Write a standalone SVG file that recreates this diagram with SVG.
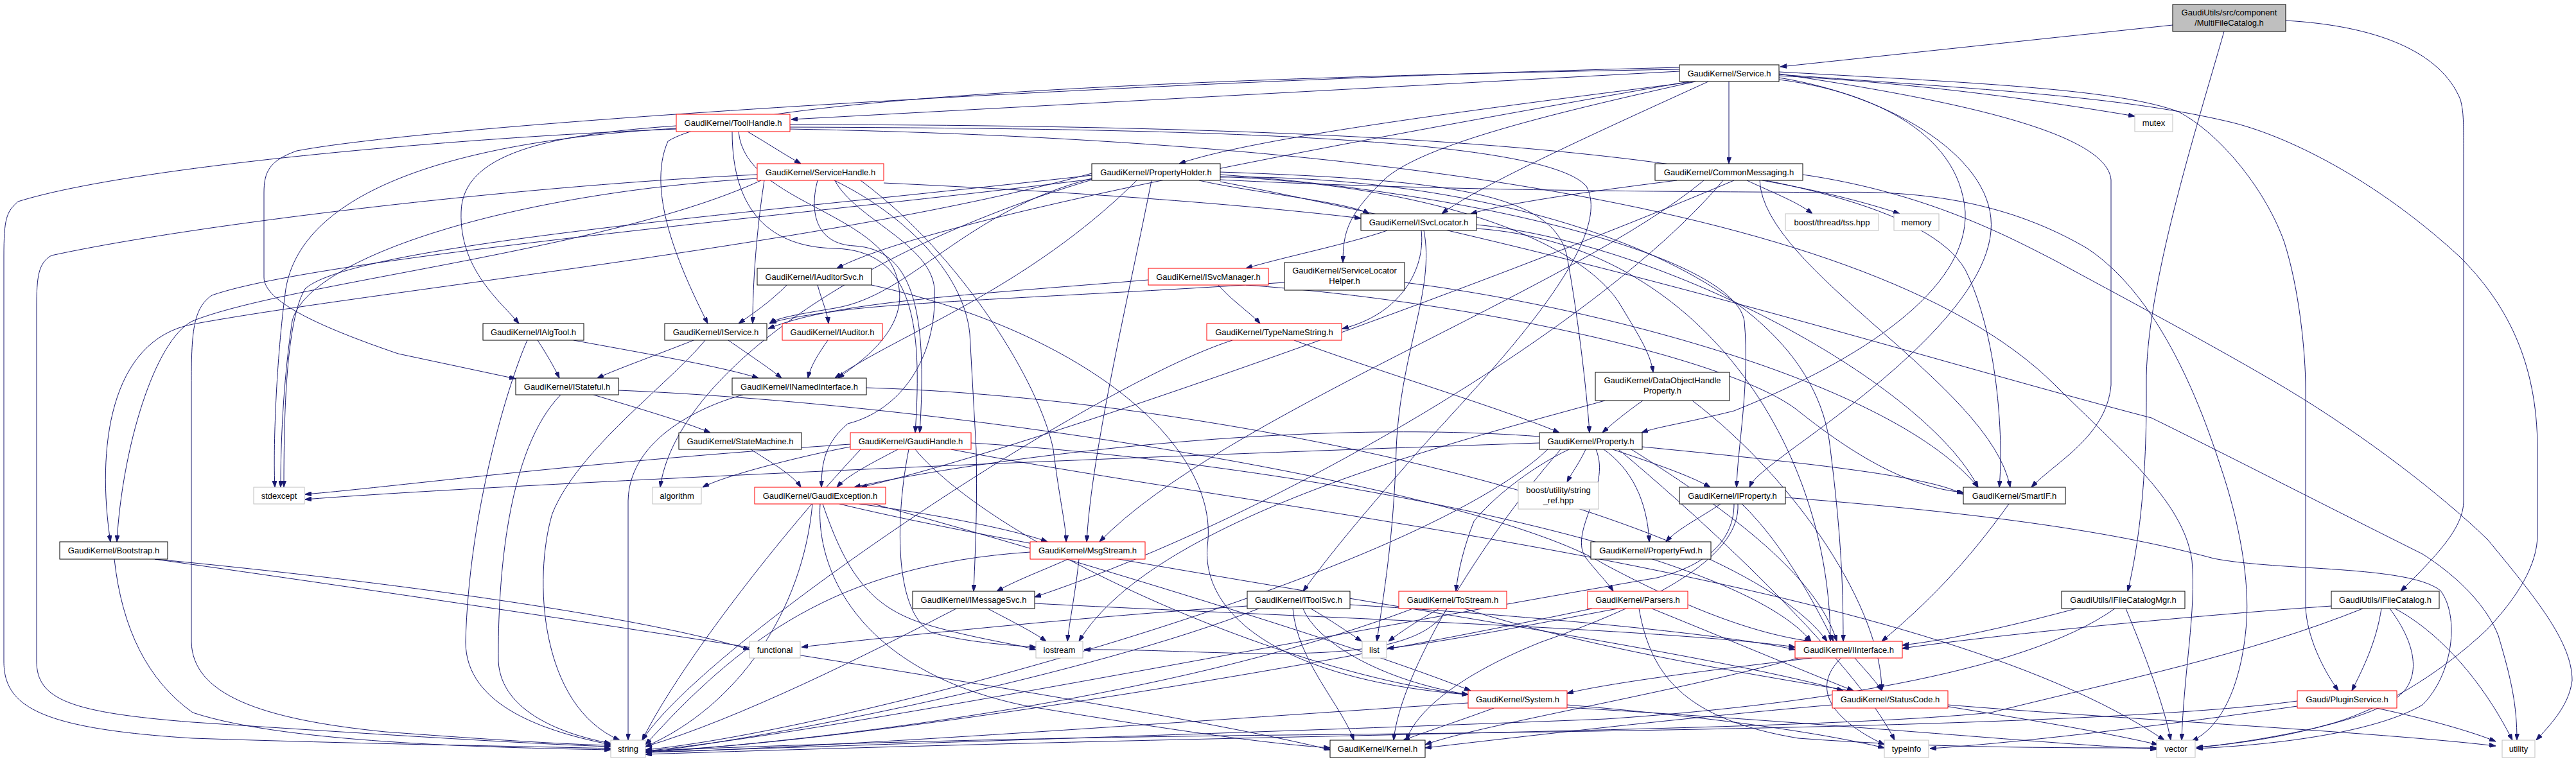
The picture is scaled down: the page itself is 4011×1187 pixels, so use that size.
<svg xmlns="http://www.w3.org/2000/svg" width="4011" height="1187" viewBox="0 0 4011 1187">
<defs>
<style>
.e path{fill:none;stroke:#191970;stroke-width:1;marker-end:url(#a)}
.n rect{fill:#fff;stroke:#000;stroke-width:1}
.n.r rect{stroke:#ff0000}
.n.g rect{stroke:#bfbfbf}
.n.t rect{fill:#bfbfbf;stroke:#000}
text{font-family:"Liberation Sans",Arial,sans-serif;font-size:13px;text-anchor:middle;fill:#000}
</style>
<marker id="a" markerWidth="10" markerHeight="7" refX="10" refY="3.5" orient="auto" markerUnits="userSpaceOnUse" viewBox="0 0 10 7"><path d="M0,0 L10,3.5 L0,7 z" fill="#191970" stroke="#191970"/></marker>
</defs>
<rect x="0" y="0" width="4011" height="1187" fill="#fff"/>
<g id="edges" class="e">
<path d="M3383,39 L2772,104"/>
<path d="M3463,49 C3420,200 3340,450 3342,600 C3343,750 3330,850 3313,921"/>
<path d="M3559,32 C3700,40 3800,80 3831,155 C3836,175 3836,185 3836,250 L3836,780 C3836,820 3800,860 3738,921"/>
<path d="M2692,127 L2692,255"/>
<path d="M2615,111 L1232,186"/>
<path d="M2770,118 C3000,130 3200,160 3324,181"/>
<path d="M2640,127 C2300,170 1950,215 1836,255"/>
<path d="M2630,127 C2100,220 1450,340 1303,418"/>
<path d="M2615,108 C1900,120 1150,150 1040,220 C1005,300 1060,420 1102,504"/>
<path d="M2615,105 C1800,125 700,190 462,235 C420,250 411,267 411,300 L411,432 C411,470 500,510 620,551 L803,590"/>
<path d="M2660,127 C2500,200 2300,290 2245,333"/>
<path d="M2640,127 C2400,180 2200,230 2150,285 C2100,335 2091,360 2091,409"/>
<path d="M2770,124 C2900,140 3050,200 3060,330 C3065,450 2900,560 2700,640 C2620,660 2580,665 2556,674"/>
<path d="M2770,121 C2950,150 3110,250 3100,360 C3090,480 2900,620 2790,700 C2750,730 2730,745 2724,759"/>
<path d="M2770,115 C3000,150 3280,200 3287,280 L3287,600 C3280,680 3200,720 3163,759"/>
<path d="M2770,112 C3100,130 3300,140 3392,174 C3460,210 3530,300 3557,378 C3580,450 3590,550 3590,606 L3590,946 C3592,990 3615,1040 3641,1076"/>
<path d="M2770,116 C3100,140 3300,150 3468,189 C3560,210 3700,280 3830,400 C3900,470 3951,560 3951,700 L3951,833 C3951,880 3920,930 3873,980 C3800,1050 3700,1110 3620,1130 C3550,1150 3470,1160 3420,1164"/>
<path d="M1164,205 C1190,220 1220,240 1247,255"/>
<path d="M1053,196 C850,210 720,240 718,330 C715,420 780,470 808,504"/>
<path d="M1140,205 C1140,330 1200,385 1300,387 C1420,390 1437,500 1425,674"/>
<path d="M1150,205 C1160,320 1390,330 1400,450 C1410,520 1330,570 1305,589"/>
<path d="M1230,198 C1800,200 2400,210 2470,290 C2520,380 2300,600 2211,700 C2150,770 2080,850 2029,921"/>
<path d="M1230,194 C2100,195 2950,230 3060,420 C3110,520 3120,680 3113,759"/>
<path d="M1053,200 C700,220 470,300 445,450 C430,560 425,700 428,759"/>
<path d="M1053,201 C700,215 200,260 28,314 C10,330 6,340 6,400 L6,1030 C6,1100 60,1135 300,1150 C600,1160 850,1163 951,1166"/>
<path d="M1230,201 C2000,215 2900,300 3200,600 C3300,700 3400,780 3413,873 C3420,950 3400,1050 3397,1153"/>
<path d="M1273,281 C1260,330 1270,380 1330,383 C1420,388 1445,480 1432,674"/>
<path d="M1300,281 C1330,340 1450,380 1455,450 C1460,560 1400,640 1320,660 C1285,690 1279,720 1279,759"/>
<path d="M1299,281 C1400,330 1500,420 1510,520 L1520,700 C1522,800 1518,870 1516,921"/>
<path d="M1376,285 C1700,300 1950,320 2119,340"/>
<path d="M1190,281 C1175,380 1172,460 1172,504"/>
<path d="M1340,281 C1500,400 1620,600 1640,700 C1650,780 1660,820 1660,844"/>
<path d="M1185,281 C950,390 450,440 300,500 C240,530 190,700 182,844"/>
<path d="M1179,272 C800,290 300,350 80,398 C60,410 57,429 57,480 L57,1030 C57,1090 110,1110 300,1125 C600,1145 850,1160 951,1163"/>
<path d="M1180,278 C800,300 480,400 455,500 C440,600 437,700 437,759"/>
<path d="M1700,270 C1300,380 600,450 300,505 C170,530 150,700 172,844"/>
<path d="M1793,281 C1760,450 1700,700 1692,844"/>
<path d="M1770,281 C1600,450 1400,520 1300,589"/>
<path d="M1700,278 C1500,330 1420,460 1300,480 C1240,490 1210,495 1198,504"/>
<path d="M1700,273 C1200,330 550,380 475,450 C445,500 442,650 442,759"/>
<path d="M1700,279 C1300,330 500,400 330,460 C300,480 298,520 298,600 L298,1000 C300,1080 400,1120 600,1140 C800,1155 900,1160 951,1161"/>
<path d="M1700,280 C1300,400 1050,600 1028,759"/>
<path d="M1900,272 C2300,300 2700,400 2716,500 C2725,600 2705,700 2704,759"/>
<path d="M1900,268 C2250,280 2420,300 2440,400 C2455,480 2470,600 2475,674"/>
<path d="M1900,275 C2250,290 2460,380 2520,470 C2550,520 2570,550 2574,580"/>
<path d="M1867,281 C1950,300 2100,315 2132,333"/>
<path d="M1900,276 C2300,270 2820,400 2850,700 C2865,820 2870,900 2870,999"/>
<path d="M1900,280 C2300,300 2700,298 2850,300 C3000,295 3133,318 3250,387 C3330,440 3400,550 3455,719 C3490,820 3502,908 3498,969 C3490,1075 3455,1135 3413,1154"/>
<path d="M1900,283 C2500,400 3000,560 3350,651 C3450,700 3590,772 3772,863 C3830,900 3873,946 3890,990 C3911,1060 3919,1100 3919,1153"/>
<path d="M2720,281 C2760,300 2800,315 2822,333"/>
<path d="M2744,281 C2850,300 2920,320 2958,333"/>
<path d="M2611,281 C2500,295 2350,315 2290,333"/>
<path d="M2653,281 C2450,450 1900,650 1712,844"/>
<path d="M2683,281 C2500,500 2000,800 1611,930"/>
<path d="M2700,281 C2300,450 1600,700 1340,759"/>
<path d="M2740,281 C2745,420 3100,600 3130,759"/>
<path d="M2807,272 C3000,300 3130,370 3200,406 C3290,455 3450,540 3561,606 C3687,682 3800,770 3873,840 C3948,931 4005,1000 4005,1060 C4000,1100 3970,1130 3949,1153"/>
<path d="M2160,359 C2100,380 2000,400 1940,418"/>
<path d="M2213,359 C2220,420 2180,490 2090,512"/>
<path d="M2217,359 C2235,450 2180,550 2174,700 C2170,850 2150,950 2144,999"/>
<path d="M2299,356 C2650,380 2850,700 2850,999"/>
<path d="M2299,350 C2600,380 3000,600 3080,759"/>
<path d="M1225,444 C1200,470 1170,490 1150,504"/>
<path d="M1273,444 C1280,470 1288,485 1290,504"/>
<path d="M1357,444 C1700,520 1900,700 1880,850 C1870,960 2000,1060 2286,1082"/>
<path d="M1897,444 C1920,470 1950,490 1962,504"/>
<path d="M1788,436 C1500,460 1300,470 1196,512"/>
<path d="M1940,444 C2300,470 2700,560 2800,640 C2900,720 2980,760 3057,767"/>
<path d="M2000,440 C1700,460 1400,470 1300,485 C1250,492 1215,497 1199,504"/>
<path d="M2187,440 C2500,480 2950,600 3080,759"/>
<path d="M837,530 C850,550 862,570 871,589"/>
<path d="M893,530 C1000,550 1120,570 1181,589"/>
<path d="M821,530 C790,600 730,800 725,1000 C725,1100 850,1140 951,1160"/>
<path d="M1080,530 C1030,550 960,575 930,589"/>
<path d="M1134,530 C1170,555 1200,575 1217,589"/>
<path d="M1098,530 C1040,600 900,700 860,800 C830,900 840,1100 965,1153"/>
<path d="M1289,530 C1275,550 1262,570 1258,589"/>
<path d="M2015,530 C2150,580 2350,640 2428,674"/>
<path d="M1919,530 C1700,600 1100,1000 1000,1153"/>
<path d="M924,615 C990,635 1060,655 1106,674"/>
<path d="M963,608 C1500,630 2300,760 2500,880 C2650,960 2750,990 2820,999"/>
<path d="M873,615 C790,700 775,900 776,1030 C780,1110 880,1145 951,1158"/>
<path d="M1349,604 C1900,620 2700,800 2845,999"/>
<path d="M1157,615 C1100,630 980,680 978,780 L978,1153"/>
<path d="M2558,624 C2535,640 2510,660 2495,674"/>
<path d="M2499,624 C2300,680 1800,800 1680,999"/>
<path d="M2635,624 C2800,750 2930,950 2930,1076"/>
<path d="M1169,700 C1200,720 1235,740 1247,759"/>
<path d="M1398,700 C1360,720 1320,740 1303,759"/>
<path d="M1324,696 C1250,710 1130,740 1094,759"/>
<path d="M1324,692 C900,720 600,760 475,770"/>
<path d="M1415,700 C1395,800 1390,950 1450,985 C1500,1000 1570,1005 1613,1008"/>
<path d="M1340,700 C1200,850 1050,1050 1000,1153"/>
<path d="M1425,700 C1550,850 2000,1050 2286,1082"/>
<path d="M1481,700 C2000,800 3000,900 3370,1153"/>
<path d="M1512,690 C2000,720 2700,850 2820,999"/>
<path d="M2469,700 C2460,720 2448,735 2440,751"/>
<path d="M2511,700 C2570,720 2630,740 2663,759"/>
<path d="M2497,700 C2540,730 2565,780 2568,844"/>
<path d="M2485,700 C2510,760 2440,830 2470,870 C2490,895 2505,910 2512,921"/>
<path d="M2443,700 C2380,730 2320,780 2295,812 C2280,850 2270,890 2267,921"/>
<path d="M2397,690 C1500,720 700,760 475,778"/>
<path d="M2410,700 C2200,900 1300,1140 1005,1168"/>
<path d="M2430,700 C2300,850 2180,1050 2170,1153"/>
<path d="M2520,700 C2700,850 2900,1050 2950,1153"/>
<path d="M2557,696 C2800,720 3000,740 3057,770"/>
<path d="M2540,700 C2700,800 2830,900 2860,999"/>
<path d="M2397,680 C2000,650 1500,720 1330,759"/>
<path d="M1338,785 C1450,800 1580,825 1631,844"/>
<path d="M1281,785 C1320,900 1360,950 1450,975 C1520,995 1580,1003 1613,1012"/>
<path d="M1277,785 C1270,900 1350,1050 1600,1100 C1900,1150 2000,1160 2071,1165"/>
<path d="M1265,785 C1250,950 1150,1100 1005,1163"/>
<path d="M1307,785 C1700,880 2600,1000 2870,1076"/>
<path d="M1360,785 C1600,850 2100,1000 2290,1076"/>
<path d="M2679,785 C2650,805 2610,825 2594,844"/>
<path d="M2712,785 C2780,850 2830,950 2855,999"/>
<path d="M2700,785 C2700,840 2660,880 2580,900 C2000,1000 1300,1140 1005,1170"/>
<path d="M2706,785 C2710,860 2600,930 2400,1000 C2250,1060 2200,1120 2190,1153"/>
<path d="M2780,775 C3100,800 3300,830 3447,870 C3550,890 3750,880 3800,920 C3830,960 3820,1050 3772,1098 C3700,1140 3550,1160 3420,1166"/>
<path d="M3128,785 C3060,880 3000,940 2930,999"/>
<path d="M178,871 C190,980 230,1060 300,1110 C450,1160 800,1165 951,1168"/>
<path d="M241,871 C800,950 1800,1100 2071,1168"/>
<path d="M241,871 C600,905 1000,960 1167,1012"/>
<path d="M1663,871 C1620,890 1580,905 1552,921"/>
<path d="M1604,860 C1300,880 1150,1000 1005,1160"/>
<path d="M1680,871 C1675,920 1665,970 1662,999"/>
<path d="M1538,948 C1570,965 1610,985 1629,999"/>
<path d="M1489,948 C1350,1020 1150,1120 1005,1163"/>
<path d="M1611,940 C2000,960 2600,980 2795,1008"/>
<path d="M1942,944 C1700,960 1400,990 1248,1008"/>
<path d="M2041,948 C2070,965 2100,985 2120,999"/>
<path d="M2029,948 C2050,1000 2150,1060 2286,1082"/>
<path d="M2013,948 C2020,1030 2090,1100 2108,1153"/>
<path d="M1960,948 C1700,1050 1200,1150 1005,1172"/>
<path d="M2102,942 C2400,960 2700,990 2795,1012"/>
<path d="M2241,948 C2210,965 2180,985 2162,999"/>
<path d="M2253,948 C2200,1050 1900,1010 1688,1012"/>
<path d="M2200,948 C1800,1100 1200,1160 1005,1172"/>
<path d="M2280,948 C2600,1050 3100,1100 3360,1160"/>
<path d="M2519,948 C2400,970 2250,1000 2160,1010"/>
<path d="M2572,948 C2700,1000 2820,1050 2886,1076"/>
<path d="M2479,948 C2000,1050 1300,1160 1005,1170"/>
<path d="M2552,948 C2570,1050 2620,1120 2800,1150 C3000,1165 3200,1165 3358,1165"/>
<path d="M3233,948 C3150,970 3050,995 2962,1005"/>
<path d="M3293,948 C3150,1050 2800,1100 2500,1120 C2000,1140 1200,1165 1005,1172"/>
<path d="M3310,948 C3340,1020 3370,1100 3380,1153"/>
<path d="M3630,944 C3400,960 3100,990 2962,1010"/>
<path d="M3679,948 C3500,1020 3300,1060 3100,1110 C2800,1140 2000,1142 1005,1175"/>
<path d="M3708,948 C3700,1000 3680,1040 3662,1076"/>
<path d="M3721,948 C3760,1000 3770,1050 3740,1080 C3700,1120 3550,1150 3420,1165"/>
<path d="M3729,948 C3790,980 3860,1050 3912,1153"/>
<path d="M2821,1025 C2650,1045 2500,1065 2440,1080"/>
<path d="M2888,1025 C2905,1045 2920,1060 2930,1076"/>
<path d="M2867,1025 C2830,1060 2830,1110 2934,1160"/>
<path d="M2800,1025 C2600,1080 2300,1130 2219,1160"/>
<path d="M2326,1103 C2280,1120 2220,1140 2185,1153"/>
<path d="M2286,1095 C1900,1120 1300,1165 1005,1172"/>
<path d="M2440,1098 C2700,1120 2850,1145 2934,1165"/>
<path d="M2440,1102 C2900,1130 3200,1160 3358,1167"/>
<path d="M2853,1098 C2600,1120 2350,1150 2219,1165"/>
<path d="M3033,1098 C3300,1120 3700,1140 3886,1162"/>
<path d="M3577,1092 C3300,1130 2500,1140 2000,1145 C1500,1150 1100,1165 1005,1170"/>
<path d="M3577,1100 C3300,1140 3100,1160 3005,1166"/>
<path d="M3700,1103 C3780,1120 3850,1140 3886,1155"/>
</g>
<g id="n_multifilecatalog" class="n t"><rect x="3383" y="7" width="176" height="42"/><text x="3471" y="24">GaudiUtils/src/component</text><text x="3471" y="40">/MultiFileCatalog.h</text></g>
<g id="n_service" class="n"><rect x="2615" y="101" width="155" height="26"/><text x="2692.5" y="119">GaudiKernel/Service.h</text></g>
<g id="n_toolhandle" class="n r"><rect x="1053" y="178" width="177" height="27"/><text x="1141.5" y="196">GaudiKernel/ToolHandle.h</text></g>
<g id="n_mutex" class="n g"><rect x="3324" y="178" width="59" height="27"/><text x="3353.5" y="196">mutex</text></g>
<g id="n_servicehandle" class="n r"><rect x="1179" y="255" width="197" height="26"/><text x="1277.5" y="273">GaudiKernel/ServiceHandle.h</text></g>
<g id="n_propertyholder" class="n"><rect x="1700" y="255" width="200" height="26"/><text x="1800" y="273">GaudiKernel/PropertyHolder.h</text></g>
<g id="n_commonmessaging" class="n"><rect x="2577" y="255" width="230" height="26"/><text x="2692" y="273">GaudiKernel/CommonMessaging.h</text></g>
<g id="n_isvclocator" class="n"><rect x="2119" y="333" width="180" height="26"/><text x="2209" y="351">GaudiKernel/ISvcLocator.h</text></g>
<g id="n_tss" class="n g"><rect x="2780" y="333" width="145" height="26"/><text x="2852.5" y="351">boost/thread/tss.hpp</text></g>
<g id="n_memory" class="n g"><rect x="2949" y="333" width="70" height="26"/><text x="2984" y="351">memory</text></g>
<g id="n_iauditorsvc" class="n"><rect x="1179" y="418" width="178" height="26"/><text x="1268" y="436">GaudiKernel/IAuditorSvc.h</text></g>
<g id="n_isvcmanager" class="n r"><rect x="1788" y="418" width="187" height="26"/><text x="1881.5" y="436">GaudiKernel/ISvcManager.h</text></g>
<g id="n_servicelocatorhelper" class="n"><rect x="2000" y="409" width="187" height="43"/><text x="2093.5" y="426">GaudiKernel/ServiceLocator</text><text x="2093.5" y="442">Helper.h</text></g>
<g id="n_ialgtool" class="n"><rect x="752" y="504" width="157" height="26"/><text x="830.5" y="522">GaudiKernel/IAlgTool.h</text></g>
<g id="n_iservice" class="n"><rect x="1035" y="504" width="159" height="26"/><text x="1114.5" y="522">GaudiKernel/IService.h</text></g>
<g id="n_iauditor" class="n r"><rect x="1218" y="504" width="156" height="26"/><text x="1296" y="522">GaudiKernel/IAuditor.h</text></g>
<g id="n_typenamestring" class="n r"><rect x="1879" y="504" width="210" height="26"/><text x="1984" y="522">GaudiKernel/TypeNameString.h</text></g>
<g id="n_istateful" class="n"><rect x="803" y="589" width="160" height="26"/><text x="883" y="607">GaudiKernel/IStateful.h</text></g>
<g id="n_inamedinterface" class="n"><rect x="1140" y="589" width="209" height="26"/><text x="1244.5" y="607">GaudiKernel/INamedInterface.h</text></g>
<g id="n_dataobjecthandleproperty" class="n"><rect x="2484" y="580" width="209" height="44"/><text x="2588.5" y="597">GaudiKernel/DataObjectHandle</text><text x="2588.5" y="613">Property.h</text></g>
<g id="n_statemachine" class="n"><rect x="1057" y="674" width="191" height="26"/><text x="1152.5" y="692">GaudiKernel/StateMachine.h</text></g>
<g id="n_gaudihandle" class="n r"><rect x="1324" y="674" width="188" height="26"/><text x="1418" y="692">GaudiKernel/GaudiHandle.h</text></g>
<g id="n_property" class="n"><rect x="2397" y="674" width="160" height="26"/><text x="2477" y="692">GaudiKernel/Property.h</text></g>
<g id="n_stdexcept" class="n g"><rect x="395" y="759" width="79" height="26"/><text x="434.5" y="777">stdexcept</text></g>
<g id="n_algorithm" class="n g"><rect x="1016" y="759" width="76" height="26"/><text x="1054" y="777">algorithm</text></g>
<g id="n_gaudiexception" class="n r"><rect x="1175" y="759" width="204" height="26"/><text x="1277" y="777">GaudiKernel/GaudiException.h</text></g>
<g id="n_string_ref" class="n g"><rect x="2364" y="751" width="125" height="42"/><text x="2426.5" y="768">boost/utility/string</text><text x="2426.5" y="784">_ref.hpp</text></g>
<g id="n_iproperty" class="n"><rect x="2615" y="759" width="165" height="26"/><text x="2697.5" y="777">GaudiKernel/IProperty.h</text></g>
<g id="n_smartif" class="n"><rect x="3057" y="759" width="159" height="26"/><text x="3136.5" y="777">GaudiKernel/SmartIF.h</text></g>
<g id="n_bootstrap" class="n"><rect x="93" y="844" width="168" height="27"/><text x="177" y="862">GaudiKernel/Bootstrap.h</text></g>
<g id="n_msgstream" class="n r"><rect x="1604" y="844" width="179" height="27"/><text x="1693.5" y="862">GaudiKernel/MsgStream.h</text></g>
<g id="n_propertyfwd" class="n"><rect x="2477" y="844" width="187" height="27"/><text x="2570.5" y="862">GaudiKernel/PropertyFwd.h</text></g>
<g id="n_imessagesvc" class="n"><rect x="1421" y="921" width="190" height="27"/><text x="1516" y="939">GaudiKernel/IMessageSvc.h</text></g>
<g id="n_itoolsvc" class="n"><rect x="1942" y="921" width="160" height="27"/><text x="2022" y="939">GaudiKernel/IToolSvc.h</text></g>
<g id="n_tostream" class="n r"><rect x="2178" y="921" width="168" height="27"/><text x="2262" y="939">GaudiKernel/ToStream.h</text></g>
<g id="n_parsers" class="n r"><rect x="2472" y="921" width="156" height="27"/><text x="2550" y="939">GaudiKernel/Parsers.h</text></g>
<g id="n_ifilecatalogmgr" class="n"><rect x="3210" y="921" width="192" height="27"/><text x="3306" y="939">GaudiUtils/IFileCatalogMgr.h</text></g>
<g id="n_ifilecatalog" class="n"><rect x="3630" y="921" width="168" height="27"/><text x="3714" y="939">GaudiUtils/IFileCatalog.h</text></g>
<g id="n_functional" class="n g"><rect x="1167" y="999" width="79" height="26"/><text x="1206.5" y="1017">functional</text></g>
<g id="n_iostream" class="n g"><rect x="1613" y="999" width="73" height="26"/><text x="1649.5" y="1017">iostream</text></g>
<g id="n_list" class="n g"><rect x="2121" y="999" width="38" height="26"/><text x="2140" y="1017">list</text></g>
<g id="n_iinterface" class="n r"><rect x="2795" y="999" width="167" height="26"/><text x="2878.5" y="1017">GaudiKernel/IInterface.h</text></g>
<g id="n_system" class="n r"><rect x="2286" y="1076" width="154" height="27"/><text x="2363" y="1094">GaudiKernel/System.h</text></g>
<g id="n_statuscode" class="n r"><rect x="2853" y="1076" width="180" height="27"/><text x="2943" y="1094">GaudiKernel/StatusCode.h</text></g>
<g id="n_pluginservice" class="n r"><rect x="3577" y="1076" width="155" height="27"/><text x="3654.5" y="1094">Gaudi/PluginService.h</text></g>
<g id="n_string" class="n g"><rect x="951" y="1153" width="54" height="27"/><text x="978" y="1171">string</text></g>
<g id="n_kernel" class="n"><rect x="2071" y="1153" width="148" height="27"/><text x="2145" y="1171">GaudiKernel/Kernel.h</text></g>
<g id="n_typeinfo" class="n g"><rect x="2934" y="1153" width="69" height="27"/><text x="2968.5" y="1171">typeinfo</text></g>
<g id="n_vector" class="n g"><rect x="3358" y="1153" width="60" height="27"/><text x="3388" y="1171">vector</text></g>
<g id="n_utility" class="n g"><rect x="3896" y="1153" width="51" height="27"/><text x="3921.5" y="1171">utility</text></g>
</svg>
